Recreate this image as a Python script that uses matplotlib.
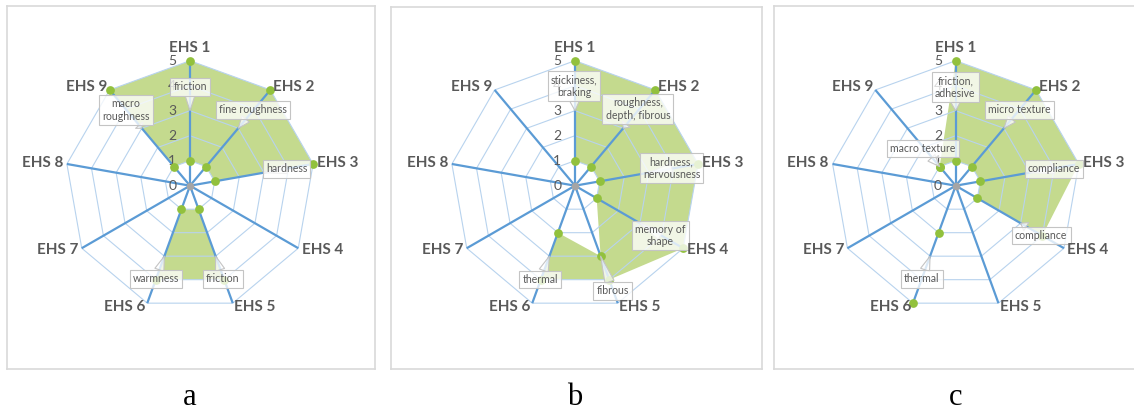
import numpy as np
import matplotlib
matplotlib.use('Agg')
import matplotlib.pyplot as plt

plt.rcParams['font.family'] = ['Lato', 'DejaVu Sans']

# ---- data -------------------------------------------------------------
categories = ['EHS 1', 'EHS 2', 'EHS 3', 'EHS 4', 'EHS 5',
              'EHS 6', 'EHS 7', 'EHS 8', 'EHS 9']
ticks = [0, 1, 2, 3, 4, 5]
panel_names = ['a', 'b', 'c']

a_outer = [5, 5, 5, 0, 4, 4, 0, 0, 5]
a_inner = [1, 1, 1, 0, 1, 1, 0, 0, 1]
a_notes = ['friction', 'fine roughness', 'hardness', '', 'friction',
           'warmness', '', '', 'macro\nroughness']
a_note_r = [3, 3, 3, 0, 3, 3, 0, 0, 3]

b_outer = [5, 5, 5, 5, 4, 4, 0, 0, 0]
b_inner = [1, 1, 1, 1, 3, 2, 0, 0, 0]
b_notes = ['stickiness,\nbraking', 'roughness,\ndepth, fibrous',
           'hardness,\nnervousness', 'memory of\nshape', 'fibrous',
           'thermal', '', '', '']
b_note_r = [3, 3, 3, 3, 3, 3, 0, 0, 0]

c_outer = [5, 5, 5, 4, 0, 5, 0, 0, 1]
c_inner = [1, 1, 1, 1, 0, 2, 0, 0, 1]
c_notes = ['friction,\nadhesive', 'micro texture', 'compliance',
           'compliance', '', 'thermal', '', '', 'macro texture']
c_note_r = [3, 3, 3, 3, 0, 3, 0, 0, 1]

# ---- layout (pixels) --------------------------------------------------
W, H = 1134, 412
S = 25.0  # pixels per unit of value
frames = [(7, 6, 375, 369), (390.7, 6.7, 761.7, 369), (774.3, 6, 1137, 369)]
centres = [(190, 185.7), (575, 185.7), (955.7, 185.7)]
# where each callout box sits relative to the point it points at (units)
note_offsets = [
    [(0, 0.95), (0.59, 0.73), (0.91, 0.15), None, (0.29, -0.91),
     (-0.33, -0.91), None, None, (-0.63, 0.73)],
    [(-0.04, 0.99), (0.59, 0.77), (0.91, 0.19), (0.82, -0.49), (0.48, -1.39),
     (-0.36, -0.94), None, None, None],
    [(-0.02, 0.95), (0.62, 0.73), (0.98, 0.15), (0.82, -0.5), None,
     (-0.33, -0.91), None, None, (-0.67, 0.71)],
]

GREEN = '#c4da8e'
MARK = '#92c13d'
BLUE = '#5b9bd5'
GRID = '#b8d3ee'
TXT = '#595959'

theta = np.deg2rad(90 - 40 * np.arange(len(categories)))


def polar_xy(values):
    r = np.asarray(values, dtype=float)
    return r * np.cos(theta), r * np.sin(theta)


def draw_panel(ax, outer, inner, notes, note_r, offsets):
    ox, oy = polar_xy(outer)
    ix, iy = polar_xy(inner)
    ax.fill(ox, oy, color=GREEN, lw=0, zorder=1)
    ax.fill(ix, iy, color='white', lw=0, zorder=1.5)

    for t in ticks[1:]:
        gx, gy = polar_xy([t] * len(categories))
        ax.plot(np.append(gx, gx[0]), np.append(gy, gy[0]),
                color=GRID, lw=0.8, zorder=2)

    ex, ey = polar_xy([ticks[-1]] * len(categories))
    for k in range(len(categories)):
        ax.plot([0, ex[k]], [0, ey[k]], color=BLUE, lw=1.6, zorder=3,
                solid_capstyle='butt')

    m = np.asarray(outer) > 0
    ax.plot(ox[m], oy[m], 'o', color=MARK, ms=6.3, mec='none', zorder=4)
    m = np.asarray(inner) > 0
    ax.plot(ix[m], iy[m], 'o', color=MARK, ms=6.3, mec='none', zorder=4)
    ax.plot([0], [0], 'o', color='#a5a5a5', ms=5.5, mec='none', zorder=4)

    for t in ticks:
        ax.text(-0.71, t, str(t), ha='center', va='center', fontsize=10,
                color=TXT, zorder=3.5)

    for k, name in enumerate(categories):
        c, s = np.cos(theta[k]), np.sin(theta[k])
        if abs(c) < 0.1:
            ax.annotate(name, (ex[k], ey[k]), xytext=(0, 6.3),
                        textcoords='offset points', ha='center',
                        va='baseline', fontsize=11, fontweight='bold',
                        color=TXT, zorder=7)
        else:
            ax.annotate(name, (ex[k], ey[k]), xytext=(2.9 * c, 2.9 * s),
                        textcoords='offset points',
                        ha='left' if c > 0 else 'right', va='center',
                        fontsize=11, fontweight='bold', color=TXT, zorder=7)

    for k, note in enumerate(notes):
        if not note:
            continue
        tx, ty = note_r[k] * np.cos(theta[k]), note_r[k] * np.sin(theta[k])
        dx, dy = offsets[k]
        ax.annotate(note, (tx, ty), xytext=(tx + dx, ty + dy),
                    ha='center', va='center', fontsize=7.6, color=TXT,
                    linespacing=1.15, zorder=6,
                    bbox=dict(boxstyle='square,pad=0.3', fc=(1, 1, 1, 0.78),
                              ec='#c4c4c4', lw=0.8),
                    arrowprops=dict(arrowstyle='wedge,tail_width=0.9,shrink_factor=0.5',
                                    fc=(1, 1, 1, 0.78), ec='#c4c4c4', lw=0.8,
                                    shrinkA=0, shrinkB=0))


fig = plt.figure(figsize=(W / 100, H / 100), dpi=100)
data = [(a_outer, a_inner, a_notes, a_note_r),
        (b_outer, b_inner, b_notes, b_note_r),
        (c_outer, c_inner, c_notes, c_note_r)]

for i, (outer, inner, notes, note_r) in enumerate(data):
    x0, y0, x1, y1 = frames[i]
    cx, cy = centres[i]
    ax = fig.add_axes([x0 / W, 1 - y1 / H, (x1 - x0) / W, (y1 - y0) / H])
    ax.set_xlim((x0 - cx) / S, (x1 - cx) / S)
    ax.set_ylim((cy - y1) / S, (cy - y0) / S)
    ax.set_xticks([])
    ax.set_yticks([])
    for sp in ax.spines.values():
        sp.set_color('#d9d9d9')
        sp.set_linewidth(1.2)
    draw_panel(ax, outer, inner, notes, note_r, note_offsets[i])
    fig.text(cx / W, 1 - 405 / H, panel_names[i], ha='center', va='baseline',
             family='Liberation Serif', fontsize=22, color='black')

fig.savefig('out.png', dpi=100)
